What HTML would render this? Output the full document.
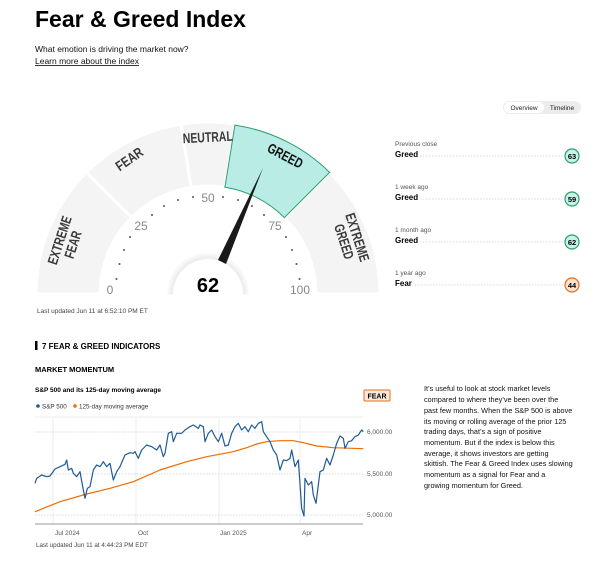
<!DOCTYPE html>
<html><head><meta charset="utf-8"><style>
body{margin:0;width:600px;height:557px;background:#fff;overflow:hidden;font-family:"Liberation Sans",Arial,sans-serif}
</style></head><body>
<svg width="600" height="557" viewBox="0 0 600 557" xmlns="http://www.w3.org/2000/svg" font-family="Liberation Sans, Arial, sans-serif">
<text x="35" y="27" font-size="23" font-weight="bold" fill="#000">Fear &amp; Greed Index</text>
<text x="35" y="52" font-size="8.5" fill="#111">What emotion is driving the market now?</text>
<text x="35" y="64" font-size="8.5" fill="#111" text-decoration="underline">Learn more about the index</text>

<!-- gauge -->
<g stroke="#fff" stroke-width="3" fill="#f4f4f4">
<path d="M36,294 A172,172 0 0 1 86.4,172.4 L131.6,217.6 A108,108 0 0 0 100,294 Z"/>
<path d="M86.4,172.4 A172,172 0 0 1 181.1,124.1 L191.1,187.3 A108,108 0 0 0 131.6,217.6 Z"/>
<path d="M181.1,124.1 A172,172 0 0 1 234.9,124.1 L224.9,187.3 A108,108 0 0 0 191.1,187.3 Z"/>
<path d="M329.6,172.4 A172,172 0 0 1 380,294 L316,294 A108,108 0 0 0 284.4,217.6 Z"/>
</g>
<path d="M234.9,125.1 A171,171 0 0 1 329.6,172.4 L284.4,217.6 A108,108 0 0 0 224.9,187.3 Z" fill="#b9ece5" stroke="#2e9e6b" stroke-width="1"/>
<g font-size="14" font-weight="bold" fill="#3a3a3a" text-anchor="middle" lengthAdjust="spacingAndGlyphs">
<text transform="translate(68,243) rotate(-72)"><tspan x="0" y="-4" textLength="50" lengthAdjust="spacingAndGlyphs">EXTREME</tspan><tspan x="0" y="10" textLength="28" lengthAdjust="spacingAndGlyphs">FEAR</tspan></text>
<text transform="translate(132,163) rotate(-35)" textLength="30" lengthAdjust="spacingAndGlyphs">FEAR</text>
<text transform="translate(208,142) rotate(-3)" textLength="50" lengthAdjust="spacingAndGlyphs">NEUTRAL</text>
<text transform="translate(283,160) rotate(28)" fill="#111" textLength="38" lengthAdjust="spacingAndGlyphs">GREED</text>
<text transform="translate(349,240) rotate(72)"><tspan x="0" y="-4" textLength="50" lengthAdjust="spacingAndGlyphs">EXTREME</tspan><tspan x="0" y="10" textLength="36" lengthAdjust="spacingAndGlyphs">GREED</tspan></text>
</g>
<g fill="#555">
<circle cx="116.5" cy="279" r="1"/><circle cx="119.5" cy="264" r="1"/><circle cx="124" cy="250" r="1"/><circle cx="130" cy="237" r="1"/>
<circle cx="152" cy="215" r="1"/><circle cx="164" cy="206" r="1"/><circle cx="178" cy="200" r="1"/><circle cx="193" cy="197" r="1"/>
<circle cx="223" cy="197" r="1"/><circle cx="238" cy="200" r="1"/><circle cx="252" cy="206" r="1"/><circle cx="264" cy="215" r="1"/>
<circle cx="286" cy="237" r="1"/><circle cx="292" cy="250" r="1"/><circle cx="296.5" cy="264" r="1"/><circle cx="299.5" cy="279" r="1"/>
</g>
<g font-size="12" fill="#888" text-anchor="middle">
<text x="110" y="294">0</text>
<text x="141" y="230">25</text>
<text x="208" y="202">50</text>
<text x="275" y="230">75</text>
<text x="300" y="294">100</text>
</g>
<defs><radialGradient id="sh"><stop offset="0.8" stop-color="#000" stop-opacity="0.1"/><stop offset="1" stop-color="#000" stop-opacity="0"/></radialGradient></defs>
<circle cx="208" cy="294" r="42" fill="url(#sh)"/>
<circle cx="208" cy="294" r="35" fill="#fff"/>
<rect x="20" y="294.5" width="380" height="44" fill="#fff"/>
<polygon points="263,168 226,264 218,260" fill="#1a1a1a"/>
<text x="208" y="292" font-size="20" font-weight="bold" text-anchor="middle" fill="#000">62</text>
<text x="37" y="313" font-size="6.5" fill="#444">Last updated Jun 11 at 6:52:10 PM ET</text>

<!-- right panel -->
<rect x="503" y="101" width="78" height="13" rx="6.5" fill="#ececec"/>
<rect x="504" y="102" width="40" height="11" rx="5.5" fill="#fff"/>
<text x="524" y="110" font-size="6.5" text-anchor="middle" fill="#222">Overview</text>
<text x="562" y="110" font-size="6.5" text-anchor="middle" fill="#222">Timeline</text>
<g font-size="6.5" fill="#555">
<text x="395" y="146">Previous close</text><text x="395" y="189">1 week ago</text><text x="395" y="232">1 month ago</text><text x="395" y="275">1 year ago</text>
</g>
<g font-size="8" font-weight="bold" fill="#000">
<text x="395" y="157">Greed</text><text x="395" y="200">Greed</text><text x="395" y="243">Greed</text><text x="395" y="286">Fear</text>
</g>
<g stroke="#ccc" stroke-width="0.8" stroke-dasharray="1.5,1.5">
<line x1="420" y1="156" x2="563" y2="156"/><line x1="420" y1="199" x2="563" y2="199"/><line x1="420" y1="242" x2="563" y2="242"/><line x1="415" y1="285" x2="563" y2="285"/>
</g>
<g stroke-width="1.2" font-size="7.5" font-weight="bold" text-anchor="middle">
<circle cx="572" cy="156" r="7" fill="#c8f2ea" stroke="#2e9e6b"/><text x="572" y="159">63</text>
<circle cx="572" cy="199" r="7" fill="#c8f2ea" stroke="#2e9e6b"/><text x="572" y="202">59</text>
<circle cx="572" cy="242" r="7" fill="#c8f2ea" stroke="#2e9e6b"/><text x="572" y="245">62</text>
<circle cx="572" cy="285" r="7" fill="#fde3cf" stroke="#e07020"/><text x="572" y="288">44</text>
</g>

<!-- indicators -->
<rect x="35" y="341" width="2.5" height="9" fill="#000"/>
<text x="42" y="349" font-size="8" font-weight="bold">7 FEAR &amp; GREED INDICATORS</text>
<text x="35" y="372" font-size="7.5" font-weight="bold">MARKET MOMENTUM</text>
<text x="35" y="392" font-size="6.5" font-weight="bold">S&amp;P 500 and its 125-day moving average</text>
<circle cx="38" cy="406" r="1.8" fill="#1f5a96"/><text x="42" y="408.5" font-size="6.3" fill="#333">S&amp;P 500</text>
<circle cx="75" cy="406" r="1.8" fill="#ef6c00"/><text x="79" y="408.5" font-size="6.3" fill="#333">125-day moving average</text>
<rect x="364" y="390" width="26" height="11" rx="1" fill="#fde9dc" stroke="#e07020" stroke-width="1"/>
<text x="377" y="398.5" font-size="7" font-weight="bold" text-anchor="middle">FEAR</text>

<g stroke="#eee" stroke-width="1">
<line x1="35" y1="417" x2="363" y2="417"/>
<line x1="53" y1="417" x2="53" y2="523"/><line x1="136" y1="417" x2="136" y2="523"/><line x1="219" y1="417" x2="219" y2="523"/><line x1="300" y1="417" x2="300" y2="523"/>
</g>
<g stroke="#ccc" stroke-width="0.8" stroke-dasharray="1.5,1.5">
<line x1="35" y1="432" x2="363" y2="432"/><line x1="35" y1="474" x2="363" y2="474"/><line x1="35" y1="515" x2="363" y2="515"/>
</g>
<line x1="35" y1="524" x2="363" y2="524" stroke="#ccc" stroke-width="2"/>
<g font-size="6.5" fill="#555">
<text x="367" y="434">6,000.00</text><text x="367" y="476">5,500.00</text><text x="367" y="517">5,000.00</text>
<text x="55" y="535">Jul 2024</text><text x="138" y="535">Oct</text><text x="220" y="535">Jan 2025</text><text x="302" y="535">Apr</text>
</g>
<text x="36" y="547" font-size="6.3" fill="#444">Last updated Jun 11 at 4:44:23 PM EDT</text>
<g transform="translate(0,370) scale(0.33333)" fill="none" stroke-width="3.6" stroke-linejoin="round">
<polyline stroke="#ef6c00" points="105,425 180,395 260,372 330,355 400,335 480,300 560,275 620,260 700,245 740,233 770,222 800,215 840,212 880,212 910,218 950,228 1000,233 1090,236"/>
<polyline stroke="#1f5a96" points="105,340 110,325 125,315 140,320 150,318 165,297 180,290 195,283 200,270 205,300 215,295 220,310 230,320 240,305 250,360 255,385 262,355 270,350 280,300 290,285 300,290 310,275 320,290 330,280 340,330 350,305 360,290 375,255 390,248 400,250 405,245 415,265 425,240 440,225 455,230 470,240 480,225 490,260 495,250 505,190 515,185 520,215 530,190 545,190 555,180 570,170 580,165 595,175 600,165 610,170 615,215 625,190 635,180 645,200 655,215 665,190 675,228 685,225 695,190 705,170 715,160 725,180 735,170 745,185 755,165 765,175 775,160 785,155 790,185 800,200 810,215 820,240 830,255 840,300 850,270 860,272 870,265 875,240 885,290 895,270 905,415 912,438 915,325 925,345 935,335 940,375 948,400 955,345 960,305 970,300 980,265 990,285 1000,255 1010,220 1020,198 1030,205 1035,235 1045,215 1055,212 1065,200 1075,195 1085,180 1090,185"/>
</g>
<g font-size="7.3" fill="#111">
<text x="424" y="391">It’s useful to look at stock market levels</text>
<text x="424" y="402">compared to where they’ve been over the</text>
<text x="424" y="413">past few months. When the S&amp;P 500 is above</text>
<text x="424" y="424">its moving or rolling average of the prior 125</text>
<text x="424" y="434">trading days, that’s a sign of positive</text>
<text x="424" y="445">momentum. But if the index is below this</text>
<text x="424" y="456">average, it shows investors are getting</text>
<text x="424" y="466">skittish. The Fear &amp; Greed Index uses slowing</text>
<text x="424" y="477">momentum as a signal for Fear and a</text>
<text x="424" y="488">growing momentum for Greed.</text>
</g>
</svg>
</body></html>
